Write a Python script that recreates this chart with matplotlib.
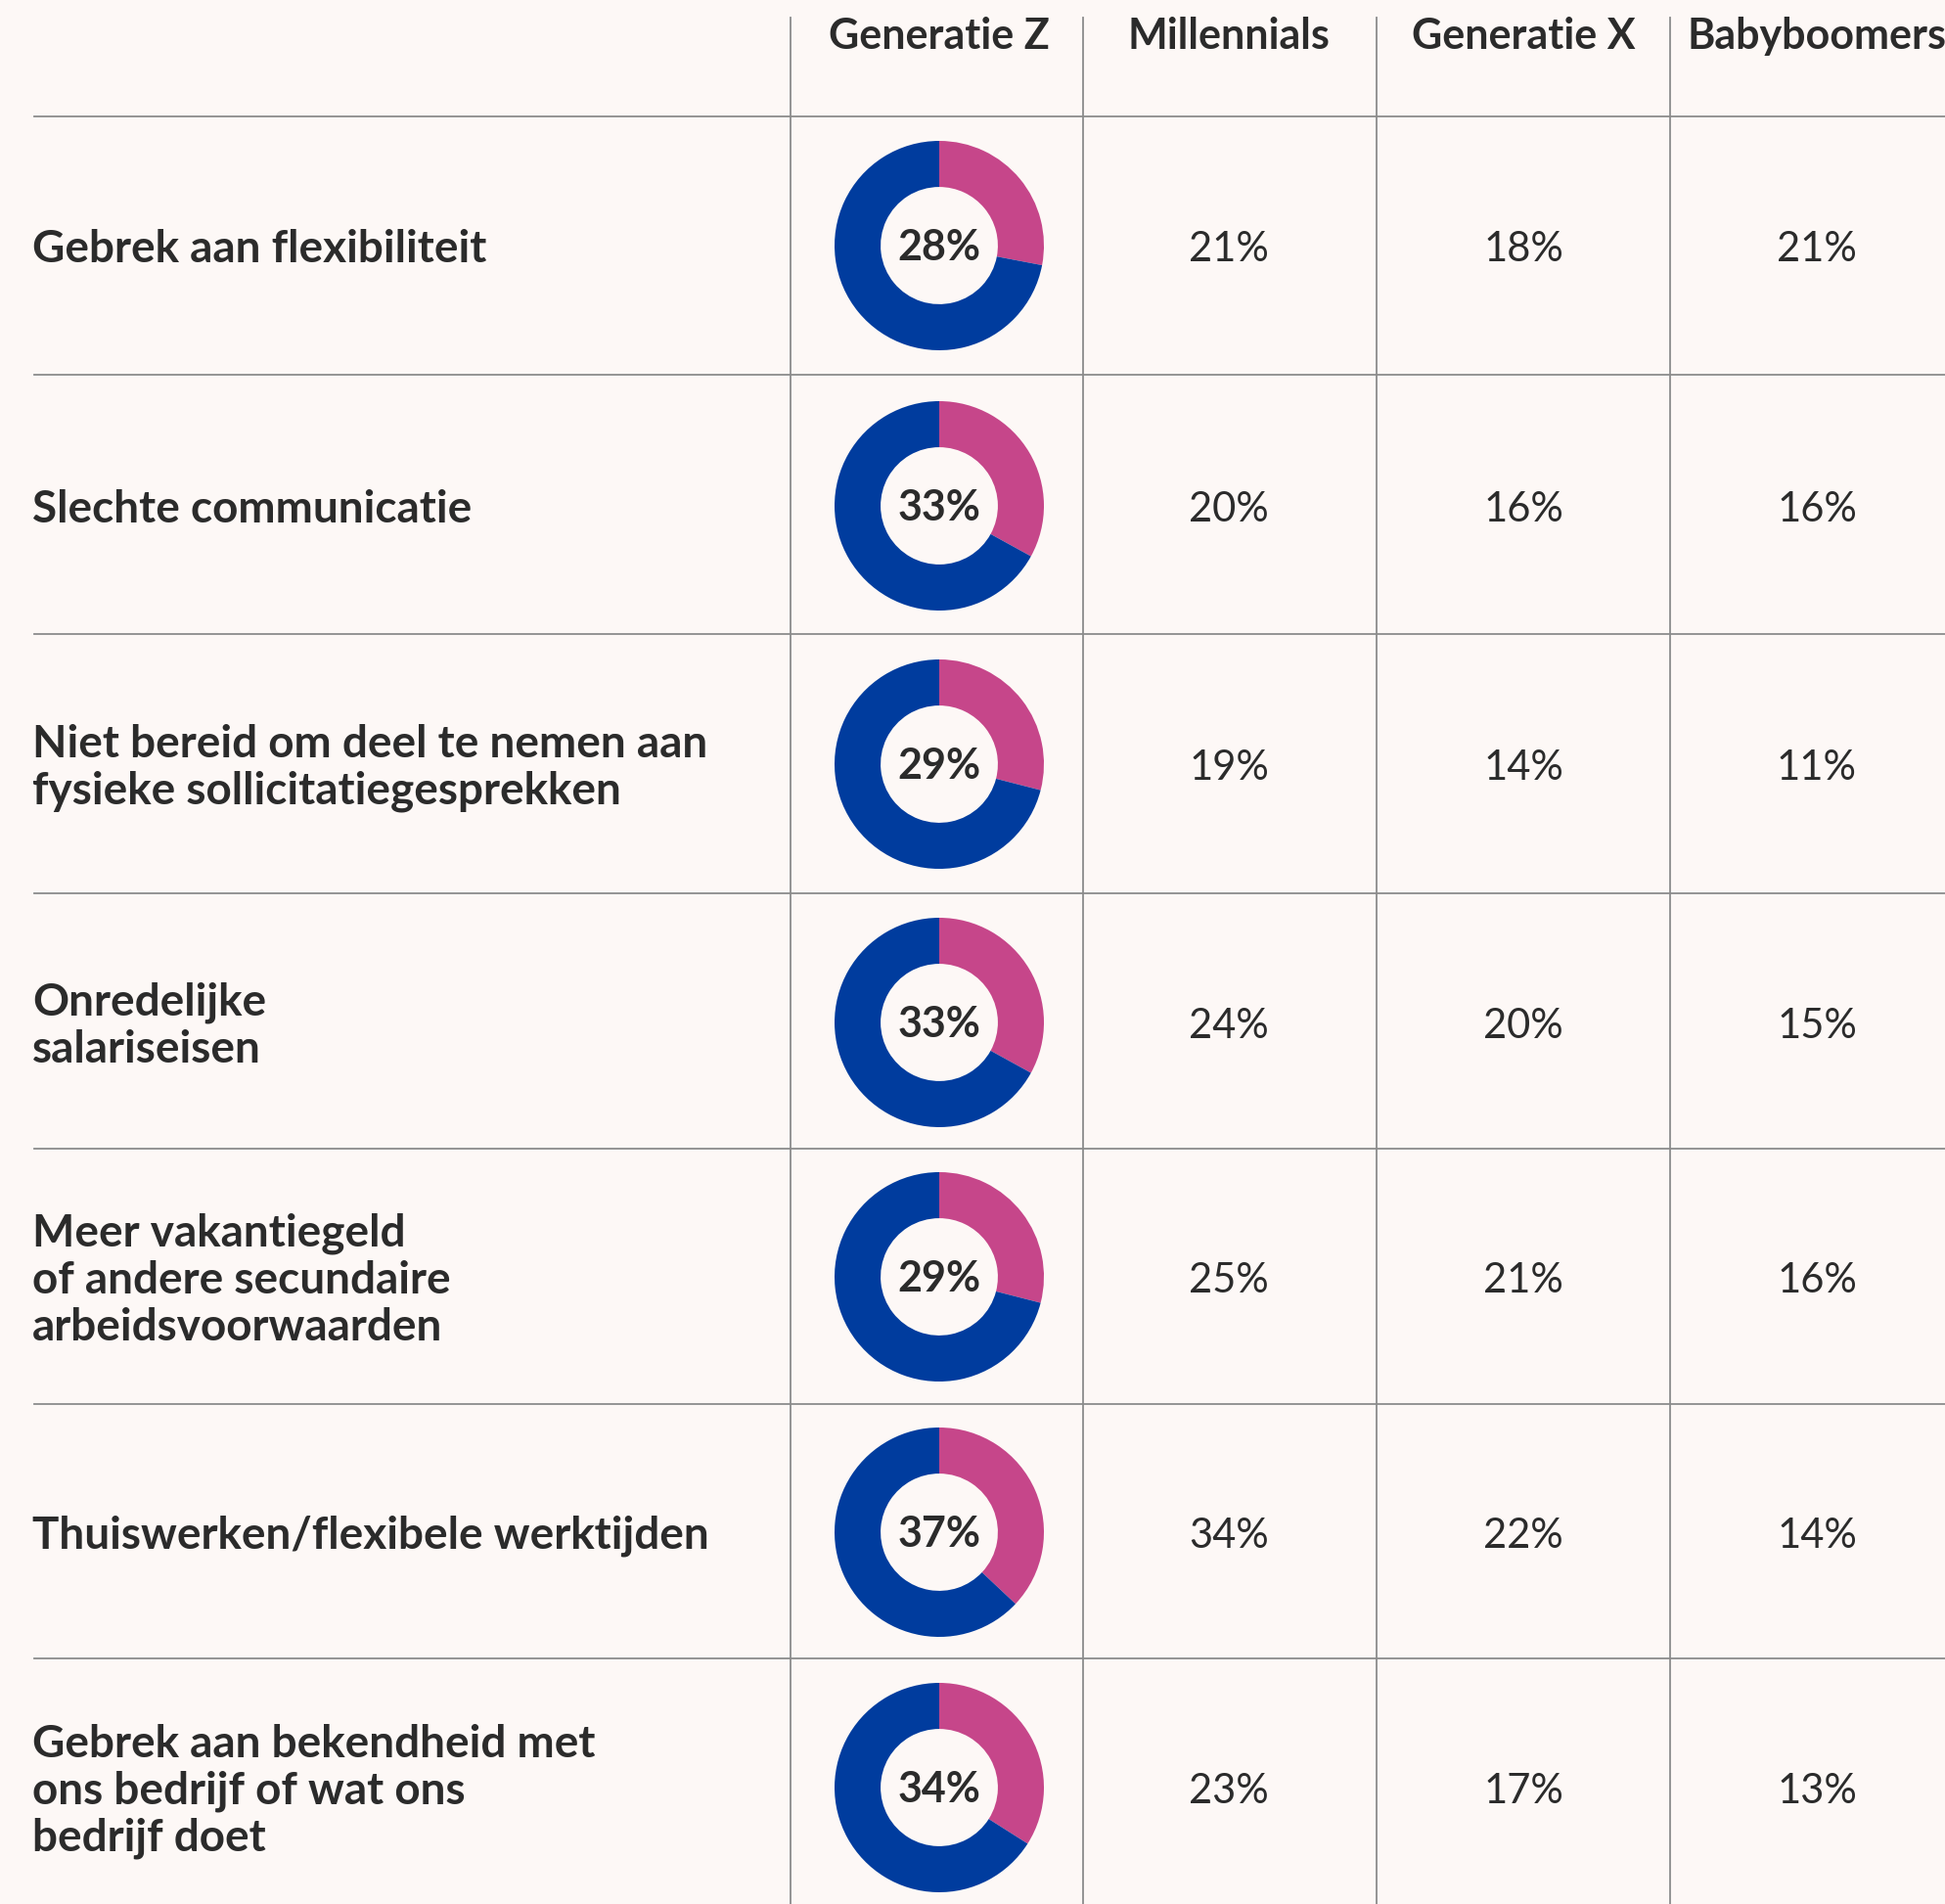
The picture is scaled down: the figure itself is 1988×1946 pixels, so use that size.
import numpy as np
import matplotlib
matplotlib.use("Agg")
import matplotlib.pyplot as plt

plt.rcParams['font.family'] = ['Lato', 'DejaVu Sans']

# data
generations = ['Generatie Z', 'Millennials', 'Generatie X', 'Babyboomers']
reasons = [
    'Gebrek aan flexibiliteit',
    'Slechte communicatie',
    'Niet bereid om deel te nemen aan\nfysieke sollicitatiegesprekken',
    'Onredelijke\nsalariseisen',
    'Meer vakantiegeld\nof andere secundaire\narbeidsvoorwaarden',
    'Thuiswerken/flexibele werktijden',
    'Gebrek aan bekendheid met\nons bedrijf of wat ons\nbedrijf doet',
]
gen_z = [28, 33, 29, 33, 29, 37, 34]
millennials = [21, 20, 19, 24, 25, 34, 23]
gen_x = [18, 16, 14, 20, 21, 22, 17]
boomers = [21, 16, 11, 15, 16, 14, 13]

BG = '#FDF8F6'
TXT = '#2B2B2B'
LINE = '#8C8C8C'
PINK = '#C6468A'
BLUE = '#003C9E'

W, H = 1988, 1946
fig = plt.figure(figsize=(W / 100, H / 100), dpi=100, facecolor=BG)
ax = fig.add_axes([0, 0, 1, 1])
ax.set_xlim(0, W)
ax.set_ylim(H, 0)
ax.axis('off')

col_x = [960, 1256, 1557, 1857]
vlines = [808, 1107, 1407, 1707]
hlines = [119, 383, 648, 913, 1174, 1435, 1695]
row_y = [251, 517, 781, 1045, 1305, 1566, 1827]
dy = 4  # text sits a little below the row centre

for x in vlines:
    ax.plot([x, x], [18, H], color=LINE, lw=1.3)
for y in hlines:
    ax.plot([35, W], [y, y], color=LINE, lw=1.3)

for x, g in zip(col_x, generations):
    ax.text(x, 37, g, ha='center', va='center', fontsize=31, fontweight='bold', color=TXT)

for y, r in zip(row_y, reasons):
    ax.text(33, y + dy, r, ha='left', va='center', fontsize=33, fontweight='bold',
            color=TXT, linespacing=1.17)

for col, vals in zip(col_x[1:], [millennials, gen_x, boomers]):
    for y, v in zip(row_y, vals):
        ax.text(col, y + dy, f'{v}%', ha='center', va='center', fontsize=30, color=TXT)

R = 107
for y, v in zip(row_y, gen_z):
    dax = fig.add_axes([(col_x[0] - R) / W, 1 - (y + R) / H, 2 * R / W, 2 * R / H])
    dax.pie([v, 100 - v], colors=[PINK, BLUE], startangle=90, counterclock=False,
            radius=1, wedgeprops=dict(width=0.44, linewidth=0))
    dax.set_xlim(-1, 1)
    dax.set_ylim(-1, 1)
    dax.set_aspect('equal')
    dax.text(0, -0.02, f'{v}%', ha='center', va='center', fontsize=31, fontweight='bold', color=TXT)

fig.savefig('out.png', dpi=100, facecolor=BG)
